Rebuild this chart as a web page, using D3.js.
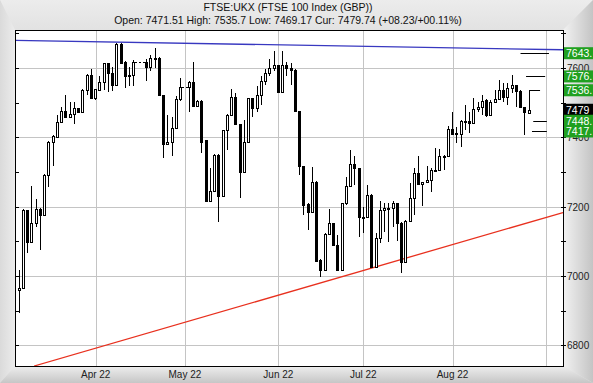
<!DOCTYPE html>
<html>
<head>
<meta charset="utf-8">
<title>FTSE:UKX</title>
<script src="https://cdn.jsdelivr.net/npm/d3@7/dist/d3.min.js"></script>
<style>
  body { margin: 0; background: #e4e4e4; }
  svg { display: block; font-family: Arial, "Liberation Sans", sans-serif; }
</style>
</head>
<body>
<script>
// daily OHLC, one slot per trading day. null = market closed (Easter, early May bank holiday)
var opens = [6959, 6964, 7191, 7099, 7154, 7193, 7175, 7290, 7386, 7402,
  7444, 7476, 7460, 7467, 7484, 7473, 7537, 7580, 7515, 7537,
  7559, 7614, 7587, 7550, 7670, 7619, 7580, 7580, null, null,
  7617, 7603, 7627, 7629, 7521, 7380, 7386, 7426, 7510, null,
  7545, 7561, 7492, 7505, 7391, 7215, 7244, 7349, 7232, 7420,
  7465, 7518, 7438, 7301, 7388, 7513, 7484, 7522, 7564, 7585,
  7600, 7608, 7532, 7608, 7600, 7595, 7475, 7316, 7208, 7186,
  7272, 7046, 7017, 7121, 7152, 7089, 7017, 7210, 7260, 7322,
  7311, 7169, 7169, 7234, 7027, 7109, 7190, 7195, 7196, 7210,
  7154, 7039, 7159, 7224, 7296, 7265, 7270, 7277, 7306, 7306,
  7347, 7345, 7424, 7410, 7410, 7448, 7448, 7441, 7482, 7487,
  7508, 7465, 7503, 7511, 7537, 7518, 7542, 7550, 7534, 7487,
  7471.51];
var highs = [7017, 7193, 7191, 7260, 7221, 7195, 7294, 7390, 7408, 7465,
  7489, 7523, 7503, 7503, 7486, 7540, 7583, 7597, 7541, 7576,
  7616, 7616, 7603, 7672, 7672, 7620, 7604, 7624, null, null,
  7626, 7638, 7657, 7631, 7522, 7465, 7458, 7520, 7571, null,
  7563, 7619, 7507, 7507, 7393, 7311, 7351, 7351, 7422, 7467,
  7539, 7527, 7440, 7450, 7515, 7515, 7549, 7576, 7597, 7626,
  7648, 7610, 7648, 7618, 7614, 7597, 7477, 7318, 7210, 7314,
  7274, 7048, 7123, 7193, 7154, 7118, 7212, 7287, 7364, 7346,
  7313, 7200, 7263, 7236, 7125, 7215, 7210, 7210, 7215, 7212,
  7157, 7161, 7268, 7311, 7347, 7272, 7316, 7311, 7369, 7366,
  7349, 7432, 7474, 7431, 7450, 7494, 7474, 7513, 7503, 7523,
  7510, 7508, 7537, 7566, 7556, 7556, 7580, 7552, 7536, 7489,
  7535.7];
var lows = [6892, 6962, 7065, 7097, 7142, 7075, 7172, 7258, 7318, 7400,
  7441, 7455, 7456, 7438, 7470, 7470, 7523, 7512, 7508, 7534,
  7537, 7532, 7534, 7548, 7612, 7542, 7549, 7549, null, null,
  7564, 7593, 7600, 7519, 7340, 7377, 7345, 7424, 7506, null,
  7474, 7490, 7490, 7354, 7213, 7213, 7242, 7157, 7230, 7364,
  7463, 7436, 7226, 7299, 7386, 7460, 7474, 7494, 7552, 7576,
  7593, 7527, 7530, 7576, 7552, 7473, 7292, 7176, 7133, 7184,
  7041, 6998, 7015, 7119, 7085, 7013, 7015, 7205, 7258, 7263,
  7112, 7125, 7167, 7022, 7025, 7094, 7128, 7097, 7142, 7102,
  7008, 7037, 7157, 7176, 7263, 7202, 7268, 7242, 7304, 7304,
  7306, 7343, 7408, 7383, 7372, 7422, 7412, 7439, 7474, 7465,
  7460, 7462, 7500, 7509, 7503, 7494, 7527, 7489, 7485, 7407,
  7469.17];
var closes = [6966, 7191, 7099, 7154, 7193, 7175, 7292, 7386, 7404, 7444,
  7476, 7458, 7467, 7484, 7473, 7537, 7580, 7515, 7539, 7559,
  7614, 7587, 7550, 7670, 7614, 7576, 7576, 7617, null, null,
  7603, 7629, 7629, 7521, 7380, 7386, 7426, 7510, 7545, null,
  7561, 7492, 7505, 7388, 7215, 7245, 7349, 7232, 7420, 7465,
  7518, 7438, 7301, 7388, 7513, 7484, 7522, 7564, 7585, 7600,
  7608, 7532, 7608, 7600, 7595, 7475, 7316, 7205, 7186, 7272,
  7043, 7017, 7121, 7152, 7090, 7017, 7210, 7260, 7322, 7311,
  7169, 7168, 7234, 7027, 7109, 7191, 7195, 7196, 7210, 7154,
  7039, 7159, 7224, 7296, 7265, 7271, 7277, 7306, 7306, 7347,
  7345, 7424, 7410, 7412, 7448, 7448, 7441, 7482, 7489, 7506,
  7465, 7503, 7511, 7537, 7518, 7542, 7550, 7534, 7487, 7472,
  7479.74];

// x axis: month starts (slot index) and their labels
var monthSlots = [18, 39, 61, 81, 102, 124];
var monthLabels = ["Apr 22", "May 22", "Jun 22", "Jul 22", "Aug 22", ""];
var yTicks = [6800, 7000, 7200, 7400, 7600];
var yMinor = [6800, 6900, 7000, 7100, 7200, 7300, 7400, 7500, 7600, 7700];

// trend lines as [slot, price] pairs
var resistance = [[-1, 7680], [128, 7653]];
var support = [[3.5, 6740], [128, 7183]];

// price targets drawn to the right of the last bar
var targets = [7643, 7576, 7536, 7448, 7417];
var targetLabels = ["7643.", "7576.", "7536.", "7448.", "7417."];
var targetFrom = [118, 119.3, 120, 121, 120.7];
var targetTo = [124.7, 123.8, 122.6, 124.2, 124.2];

var W = 593, H = 383;
var plot = {left: 15, right: 563, top: 30, bottom: 366};

var x = d3.scaleLinear().domain([-1, 128]).range([plot.left, plot.right]);
var y = d3.scaleLinear().domain([6740, 7710]).range([plot.bottom, plot.top]);

var svg = d3.select("body").append("svg")
    .attr("width", W)
    .attr("height", H);

var defs = svg.append("defs");
function grad(id, x1, y1, x2, y2, c1, c2) {
    var g = defs.append("linearGradient").attr("id", id)
        .attr("x1", x1).attr("y1", y1).attr("x2", x2).attr("y2", y2);
    g.append("stop").attr("offset", "0%").attr("stop-color", c1);
    g.append("stop").attr("offset", "100%").attr("stop-color", c2);
}
grad("gTop", 0, 0, 0, 1, "#ececec", "#e2e2e2");
grad("gLeft", 0, 0, 1, 0, "#dadada", "#ececec");
grad("gRight", 0, 0, 1, 0, "#f2f2f2", "#c4c4c4");
grad("gBottom", 0, 0, 0, 1, "#eeeeee", "#c6c6c6");

defs.append("clipPath").attr("id", "plotClip")
    .append("rect")
    .attr("x", plot.left).attr("y", plot.top)
    .attr("width", plot.right - plot.left).attr("height", plot.bottom - plot.top);

// bevelled frame
var frame = [
    {fill: "url(#gTop)", pts: [[0, 0], [W, 0], [plot.right, plot.top], [plot.left, plot.top]]},
    {fill: "url(#gLeft)", pts: [[0, 0], [plot.left, plot.top], [plot.left, plot.bottom], [0, H]]},
    {fill: "url(#gRight)", pts: [[W, 0], [plot.right, plot.top], [plot.right, plot.bottom], [W, H]]},
    {fill: "url(#gBottom)", pts: [[0, H], [plot.left, plot.bottom], [plot.right, plot.bottom], [W, H]]}
];
svg.selectAll("polygon.frame")
    .data(frame)
    .enter()
    .append("polygon")
    .attr("class", "frame")
    .attr("points", function (d) { return d.pts.join(" "); })
    .attr("fill", function (d) { return d.fill; });

svg.append("rect")
    .attr("x", plot.left).attr("y", plot.top)
    .attr("width", plot.right - plot.left).attr("height", plot.bottom - plot.top)
    .attr("fill", "#fff");

function px(v) { return Math.round(v) + 0.5; }

// grid
svg.append("g").selectAll("line")
    .data(yTicks)
    .enter()
    .append("line")
    .attr("x1", plot.left).attr("x2", plot.right)
    .attr("y1", function (d) { return px(y(d)); })
    .attr("y2", function (d) { return px(y(d)); })
    .attr("stroke", "#c4c4c4");

svg.append("g").selectAll("line")
    .data(monthSlots)
    .enter()
    .append("line")
    .attr("x1", function (d) { return px(x(d)); })
    .attr("x2", function (d) { return px(x(d)); })
    .attr("y1", plot.top).attr("y2", plot.bottom)
    .attr("stroke", "#c4c4c4");

// tick marks on both price axes
svg.append("g").selectAll("line")
    .data(yMinor)
    .enter()
    .append("line")
    .attr("x1", plot.left).attr("x2", plot.left + 4)
    .attr("y1", function (d) { return px(y(d)); })
    .attr("y2", function (d) { return px(y(d)); })
    .attr("stroke", "#000");

svg.append("g").selectAll("line")
    .data(yMinor)
    .enter()
    .append("line")
    .attr("x1", plot.right - 2).attr("x2", plot.right + 3)
    .attr("y1", function (d) { return px(y(d)); })
    .attr("y2", function (d) { return px(y(d)); })
    .attr("stroke", "#000");

svg.append("g").selectAll("text")
    .data(yTicks)
    .enter()
    .append("text")
    .attr("x", plot.right + 4)
    .attr("y", function (d) { return y(d) + 4; })
    .attr("font-size", "10px")
    .attr("fill", "#222")
    .text(function (d) { return d; });

svg.append("g").selectAll("text")
    .data(monthSlots)
    .enter()
    .append("text")
    .attr("x", function (d) { return x(d); })
    .attr("y", plot.bottom + 12)
    .attr("text-anchor", "middle")
    .attr("font-size", "10px")
    .attr("fill", "#222")
    .text(function (d, i) { return monthLabels[i]; });

var chart = svg.append("g").attr("clip-path", "url(#plotClip)");

// trend lines
var line = d3.line()
    .x(function (d) { return x(d[0]); })
    .y(function (d) { return y(d[1]); });

chart.append("path")
    .attr("d", line(resistance))
    .attr("fill", "none")
    .attr("stroke", "#3838c0")
    .attr("stroke-width", 1.3);

chart.append("path")
    .attr("d", line(support))
    .attr("fill", "none")
    .attr("stroke", "#e8301e")
    .attr("stroke-width", 1.3);

// candles
var bars = [];
opens.forEach(function (o, i) {
    if (o !== null) bars.push({i: i, o: o, h: highs[i], l: lows[i], c: closes[i]});
});

// dashed joins across closed days
var joins = [];
for (var k = 1; k < bars.length; k++) {
    if (bars[k].i - bars[k - 1].i > 1) joins.push({a: bars[k - 1], b: bars[k]});
}
chart.selectAll("line.join")
    .data(joins)
    .enter()
    .append("line")
    .attr("class", "join")
    .attr("x1", function (d) { return Math.floor(x(d.a.i)) + 2; })
    .attr("x2", function (d) { return Math.floor(x(d.b.i)) - 1; })
    .attr("y1", function (d) { return px(y(d.a.c)); })
    .attr("y2", function (d) { return px(y(d.a.c)); })
    .attr("stroke", "#000")
    .attr("stroke-dasharray", "2,2");

var candle = chart.selectAll("g.candle")
    .data(bars)
    .enter()
    .append("g")
    .attr("class", "candle");

candle.append("line")
    .attr("x1", function (d) { return Math.floor(x(d.i)) + 0.5; })
    .attr("x2", function (d) { return Math.floor(x(d.i)) + 0.5; })
    .attr("y1", function (d) { return Math.round(y(d.h)); })
    .attr("y2", function (d) { return Math.round(y(d.l)); })
    .attr("stroke", "#000");

candle.append("rect")
    .attr("x", function (d) { return Math.floor(x(d.i)) - 0.5; })
    .attr("width", 2)
    .attr("y", function (d) { return Math.round(y(Math.max(d.o, d.c))) + 0.5; })
    .attr("height", function (d) {
        return Math.max(1, Math.round(y(Math.min(d.o, d.c))) - Math.round(y(Math.max(d.o, d.c))));
    })
    .attr("fill", function (d) { return d.c >= d.o ? "#fff" : "#000"; })
    .attr("stroke", "#000");

// target levels
chart.selectAll("line.target")
    .data(targets)
    .enter()
    .append("line")
    .attr("class", "target")
    .attr("x1", function (d, i) { return x(targetFrom[i]); })
    .attr("x2", function (d, i) { return x(targetTo[i]); })
    .attr("y1", function (d) { return px(y(d)); })
    .attr("y2", function (d) { return px(y(d)); })
    .attr("stroke", "#000");

// plot border
svg.append("rect")
    .attr("x", plot.left + 0.5).attr("y", plot.top + 0.5)
    .attr("width", plot.right - plot.left).attr("height", plot.bottom - plot.top)
    .attr("fill", "none")
    .attr("stroke", "#000");

// current price box, then target boxes on top
var last = bars[bars.length - 1];
svg.append("rect")
    .attr("x", plot.right + 1).attr("y", y(last.c) - 6)
    .attr("width", W - plot.right).attr("height", 12)
    .attr("fill", "#000");
svg.append("text")
    .attr("x", plot.right + 3).attr("y", y(last.c) + 4)
    .attr("font-size", "10.5px")
    .attr("fill", "#fff")
    .text(Math.floor(last.c));

var tbox = svg.append("g").selectAll("g")
    .data(targets)
    .enter()
    .append("g");
tbox.append("rect")
    .attr("x", plot.right + 1)
    .attr("y", function (d) { return y(d) - 6; })
    .attr("width", W - plot.right)
    .attr("height", 12)
    .attr("fill", "#20a020");
tbox.append("text")
    .attr("x", plot.right + 3)
    .attr("y", function (d) { return y(d) + 4; })
    .attr("font-size", "10.5px")
    .attr("fill", "#fff")
    .text(function (d, i) { return targetLabels[i]; });

// header
var f = d3.format("+06.2f");
var prev = last.o;
svg.append("text")
    .attr("x", 288).attr("y", 11)
    .attr("text-anchor", "middle")
    .attr("font-size", "10.5px")
    .attr("fill", "#111")
    .text("FTSE:UKX (FTSE 100 Index (GBP))");
svg.append("text")
    .attr("x", 288).attr("y", 24)
    .attr("text-anchor", "middle")
    .attr("font-size", "10.5px")
    .attr("fill", "#111")
    .text("Open: " + last.o + " High: " + last.h + " Low: " + last.l + " Cur: " + last.c +
        " (" + f(last.c - prev) + "/" + f((last.c - prev) / prev * 100) + "%)");
</script>
</body>
</html>
